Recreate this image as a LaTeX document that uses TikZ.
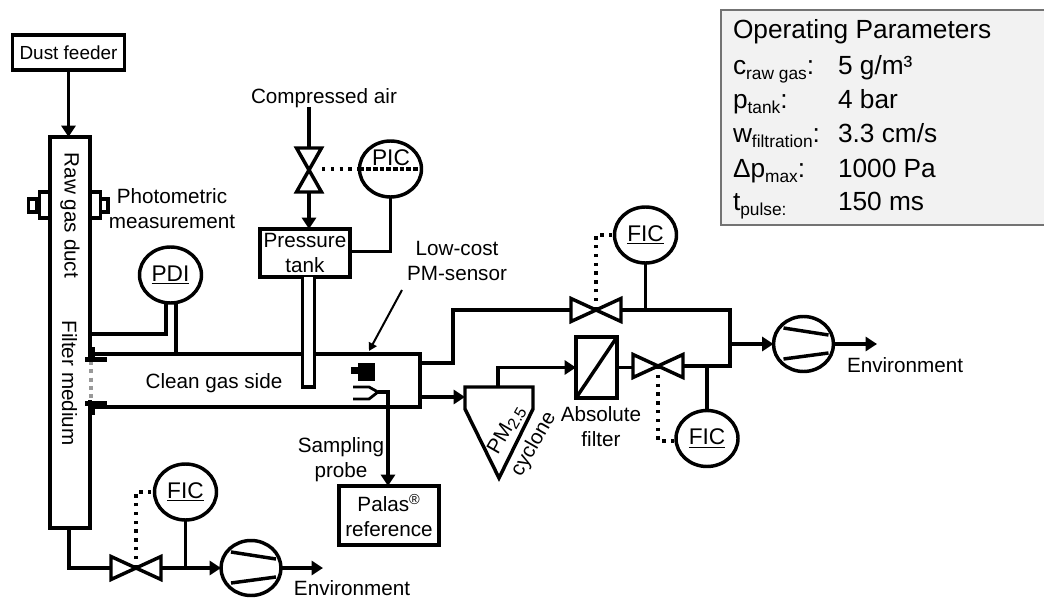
\documentclass[tikz,border=0pt]{standalone}
\usepackage{fontspec}
\setmainfont{Liberation Sans}
\usetikzlibrary{arrows.meta,shapes.geometric}
\def\upx{0.75pt}
\newcommand\lblfont{\fontsize{15.5}{18.75}\selectfont}
\newcommand\panelfont{\fontsize{19.7}{23}\selectfont}
\newcommand\subfont{\fontsize{13}{13}\selectfont}
\newcommand\lowsub[1]{\raisebox{-3.6pt}{\subfont #1}}
\tikzset{
  x=0.75pt,y=-0.75pt,
  pipe/.style={line width=2.6pt,line join=miter},
  flow/.style={pipe,-{Triangle[length=8.5pt,width=10.5pt]}},
  thinflow/.style={line width=1.5pt,-{Triangle[length=6pt,width=6.5pt]}},
  signal/.style={line width=2.6pt,dash pattern=on 2.6pt off 4pt},
  boxnode/.style={draw,line width=2.9pt,rectangle,inner sep=0pt,outer sep=0pt,align=center,font=\lblfont},
  instr/.style={draw,line width=2.6pt,ellipse,inner sep=0pt,outer sep=0pt,minimum width=62*\upx,minimum height=56*\upx,font=\fontsize{17}{20}\selectfont},
  pumpnode/.style={draw,line width=2.6pt,ellipse,inner sep=0pt,outer sep=0pt,minimum width=60*\upx,minimum height=55*\upx},
  lbl/.style={inner sep=0pt,outer sep=0pt,align=center,font=\lblfont},
  plabel/.style={inner sep=0pt,outer sep=0pt,anchor=base west,font=\panelfont},
}
\newcommand\myvalveh[3]{%
  \coordinate (#1) at (#2,#3);
  \coordinate (#1l) at (#2-25,#3);
  \coordinate (#1r) at (#2+25,#3);
  \draw[pipe] (#2-25,#3-11.5) -- (#2+25,#3+11.5) -- (#2+25,#3-11.5) -- (#2-25,#3+11.5) -- cycle;
}
\newcommand\mypump[3]{%
  \node[pumpnode] (#1) at (#2,#3) {};
  \draw[pipe] (#2-20,#3-16) -- (#2+25,#3-9);
  \draw[pipe] (#2-20,#3+15) -- (#2+25,#3+9);
}
\begin{document}
\begin{tikzpicture}
\useasboundingbox (0,0) rectangle (1044,598);

% parameter panel
\fill[fill=black!5] (721,10) rectangle (1044,225);
\draw[draw=black!55,line width=1.1pt] (1044,10) -- (721,10) -- (721,225) -- (1044,225);
\node[plabel] (ptitle) at (733,38.5) {Operating Parameters};
\node[plabel] (pa) at (733,75) {c\lowsub{raw gas}:};
\node[plabel] (pav) at (838,75) {5 g/m³};
\node[plabel] (pb) at (733,108.5) {p\lowsub{tank}:};
\node[plabel] (pbv) at (838,108.5) {4 bar};
\node[plabel] (pc) at (733,143) {w\lowsub{filtration}:};
\node[plabel] (pcv) at (838,143) {3.3 cm/s};
\node[plabel] (pd) at (733,177.5) {Δp\lowsub{max}:};
\node[plabel] (pdv) at (838,177.5) {1000 Pa};
\node[plabel] (pe) at (733,211) {t\lowsub{pulse:}};
\node[plabel] (pev) at (838,211) {150 ms};

% raw gas duct and feeder
\node[boxnode,minimum width=112*\upx,minimum height=35*\upx,font=\fontsize{14.2}{17}\selectfont] (feeder) at (68.5,52.5) {Dust feeder};
\node[boxnode,minimum width=40*\upx,minimum height=391*\upx] (duct) at (70,332.5) {};
\draw[flow] (feeder.south) -- (feeder.south |- duct.north);
\node[lbl,rotate=-90] (rawlbl) at (70,215.5) {Raw gas duct};
\node[lbl,rotate=-90] (medlbl) at (69.5,383) {Filter medium};

% photometric sensors
\draw[line width=2.6pt,fill=white] (39.5,192) rectangle (50,218);
\draw[line width=2.6pt,fill=white] (28.5,199) rectangle (37,212);
\draw[line width=2.6pt,fill=white] (90,192) rectangle (100.5,218);
\draw[line width=2.6pt,fill=white] (100.5,199) rectangle (108,212);
\node[lbl] (photolbl) at (172,209) {Photometric\\measurement};

% filter seat
\draw[white,line width=5pt] (90.5,362) -- (90.5,400);
\draw[black!40,line width=2.3pt,dash pattern=on 3pt off 3.2pt] (91,361) -- (91,400);
\fill (85,357) rectangle (107,362);
\fill (88,347) rectangle (95,362);
\fill (85,401) rectangle (107,406);
\fill (91.5,401) rectangle (95,415);

% clean gas housing
\draw[pipe] (92,354) -- (420,354) -- (420,407) -- (92,407);
\node[lbl] (cleanlbl) at (214,383) {Clean gas side};

% PDI
\node[instr] (pdi) at (170.5,275) {\underline{PDI}};
\coordinate (pdiwall) at (90,334);
\coordinate (pditop) at (176,354);
\draw[pipe] ([xshift=-3.4pt]pdi.south) |- (pdiwall);
\draw[pipe] (pditop |- pdi.south) -- (pditop);

% compressed air and tank
\node[lbl] (airlbl) at (324,98) {Compressed air};
\node[boxnode,minimum width=90*\upx,minimum height=48*\upx] (tank) at (305,253) {Pressure\\tank};
\coordinate (vtop) at (309,148);
\coordinate (vmid) at (309,169.5);
\coordinate (vbot) at (309,192);
\coordinate (airin) at (309,107);
\draw[pipe] (296.5,148) -- (321.5,148) -- (296.5,192) -- (321.5,192) -- cycle;
\draw[pipe] (airin) -- (vtop);
\draw[flow] (vbot) -- (vbot |- tank.north);
\node[instr] (pic) at (390.5,169) {};
\node[inner sep=0pt,font=\fontsize{17}{20}\selectfont] (piclbl) at (391,158) {PIC};
\coordinate (vright) at (322,169);
\draw[signal] (vright) -- (pic.west);
\draw[line width=2.6pt,dash pattern=on 3.5pt off 1.5pt] (pic.west) -- (pic.east);
\draw[pipe] (pic.south) |- ([yshift=1pt]tank.east);

% lance
\draw[line width=2.4pt,fill=white] (302.5,277) -- (302.5,387) -- (314.5,387) -- (314.5,277);

% sensor and probe
\node[lbl] (sensorlbl) at (457,261) {Low-cost\\PM-sensor};
\coordinate (sensortip) at (369,351);
\draw[thinflow] (402,290) -- (sensortip);
\fill (358,363) rectangle (375,381);
\fill (351,367) rectangle (358,374);
\coordinate (probeend) at (378,392);
\draw[line width=2.1pt] (353,387) -- (369,387) -- (probeend) -- (369,399) -- (353,399);
\node[boxnode,minimum width=100*\upx,minimum height=59*\upx] (palas) at (389,515.5) {Palas\textsuperscript{®}\\reference};
\draw[flow] (probeend) -| (388,486);
\node[lbl] (samplbl) at (341,459.5) {Sampling\\probe};

% upper branch
\myvalveh{vu}{596}{310}
\coordinate (houtu) at (420,363);
\draw[pipe] (houtu) -- (453,363) |- (vul);
\node[instr] (ficu) at (645.5,235) {\underline{FIC}};
\draw[signal] (vu) |- (ficu.west);

% cyclone
\coordinate (cycl) at (465,387);
\coordinate (cycr) at (533,387);
\coordinate (cycleft) at (465,397);
\coordinate (houtl) at (420,397);
\draw[pipe,line join=miter] (cycl) -- (cycr) -- (533,409) -- (499,478) -- (465,409) -- cycle;
\draw[flow] (houtl) -- (cycleft);
\node[lbl,rotate=60] (pmlbl) at (506.5,430) {PM\raisebox{-2.5pt}{\fontsize{12}{12}\selectfont 2.5}};
\node[lbl,rotate=60] (cyclbl) at (534,444) {cyclone};

% absolute filter
\node[boxnode,minimum width=41*\upx,minimum height=61*\upx] (filt) at (596.5,367.5) {};
\draw[pipe] (filt.south west) -- (filt.north east);
\draw[flow] (498,387) |- (filt.west);
\node[lbl] (abslbl) at (601,426.5) {Absolute\\filter};

% lower branch
\myvalveh{vl}{658}{366}
\draw[pipe] (filt.east) -- (vll |- filt.east);
\node[instr] (ficl) at (707,438.5) {\underline{FIC}};
\draw[signal] (vl) |- ([yshift=-2pt]ficl.west);

% merge and exhaust pump
\coordinate (merge) at (730,344);
\draw[pipe] (vur) -- (730,310) -- (730,366) -- (vlr);
\draw[pipe] (ficu.south) -- (ficu.south |- vu);
\draw[pipe] (ficl.north) -- (ficl.north |- vl);
\mypump{pumpr}{803.5}{344}
\draw[flow] (merge) -- (pumpr.west);
\coordinate (envr) at (877,344);
\draw[flow] (pumpr.east) -- (envr);
\node[lbl] (envrlbl) at (905,365) {Environment};

% bottom branch
\myvalveh{vb}{136}{568}
\draw[pipe] ([xshift=-0.75pt]duct.south) |- (vbl);
\node[instr] (ficb) at (185.5,492) {\underline{FIC}};
\draw[signal] (vb) |- (ficb.west);
\mypump{pumpb}{251}{568}
\draw[flow] (vbr) -- (pumpb.west);
\draw[pipe] (ficb.south) -- (ficb.south |- vb);
\coordinate (envb) at (323,568);
\draw[flow] (pumpb.east) -- (envb);
\node[lbl] (envblbl) at (352,588) {Environment};
\end{tikzpicture}
\end{document}
